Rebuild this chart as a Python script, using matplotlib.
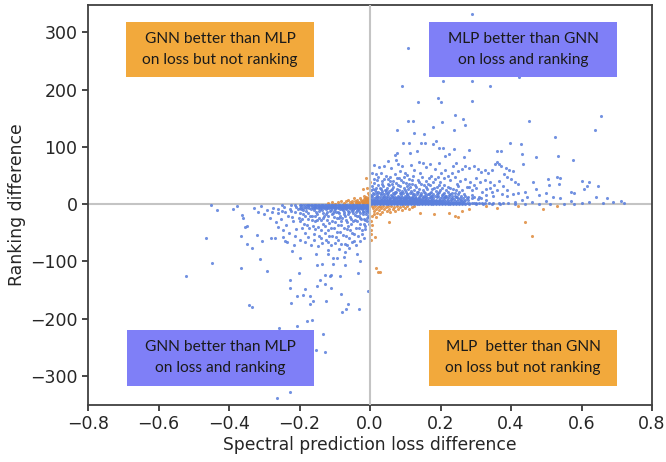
import numpy as np
import matplotlib
matplotlib.use('Agg')
import matplotlib.pyplot as plt
from matplotlib.patches import Rectangle

plt.rcParams['font.family'] = ['DejaVu Sans']

x_ticks = [-0.8, -0.6, -0.4, -0.2, 0.0, 0.2, 0.4, 0.6, 0.8]
y_ticks = [-300, -200, -100, 0, 100, 200, 300]

# scattered points (loss diff, ranking diff)
upper_sparse = [
    (0.29, 332), (0.108, 273), (0.208, 216), (0.29, 216), (0.34, 207), (0.423, 222), (0.09, 207),
    (0.137, 178), (0.193, 185), (0.201, 178), (0.288, 180), (0.24, 156), (0.264, 149), (0.27, 138),
    (0.107, 145), (0.121, 145), (0.204, 143), (0.178, 135), (0.237, 129), (0.078, 129), (0.125, 125),
    (0.154, 122), (0.452, 145), (0.656, 154), (0.638, 129), (0.526, 118), (0.396, 107), (0.429, 105),
    (0.095, 107), (0.111, 107), (0.146, 107), (0.157, 107), (0.178, 105), (0.187, 111), (0.197, 98),
    (0.206, 98), (0.237, 96), (0.281, 94), (0.134, 93), (0.114, 89), (0.078, 89), (0.071, 86),
    (0.225, 87), (0.214, 84), (0.267, 82), (0.36, 93), (0.373, 93), (0.432, 87), (0.47, 83),
    (0.532, 85), (0.576, 78), (0.36, 73), (0.354, 71), (0.366, 71), (0.435, 71), (0.372, 66),
    (0.385, 63), (0.395, 60), (0.405, 58), (0.38, 52), (0.39, 48), (0.4, 44), (0.41, 38),
    (0.42, 35), (0.462, 38), (0.505, 44), (0.508, 33), (0.53, 47), (0.54, 45), (0.535, 36),
    (0.6, 40), (0.622, 38), (0.615, 31), (0.648, 32), (0.606, 26), (0.57, 21), (0.58, 19),
    (0.52, 13), (0.5, 20), (0.48, 16), (0.47, 26), (0.44, 22), (0.445, 13), (0.64, 12),
    (0.672, 11), (0.713, 6), (0.72, 2), (0.69, 3), (0.66, 2), (0.62, 4), (0.6, 2),
    (0.57, 6), (0.54, 10), (0.5, 5), (0.46, 3), (0.43, 8), (0.41, 4), (0.39, 14),
    (0.01, 68), (0.025, 65), (0.04, 66), (0.05, 75), (0.06, 63), (0.075, 77), (0.08, 70),
    (0.085, 58), (0.1, 55), (0.092, 66), (0.115, 68), (0.125, 60), (0.14, 74), (0.15, 72),
    (0.16, 65), (0.17, 70), (0.185, 62), (0.195, 72), (0.2, 55), (0.212, 60), (0.22, 50),
    (0.235, 66), (0.245, 72), (0.25, 58), (0.26, 62), (0.27, 67), (0.28, 64), (0.295, 66),
    (0.305, 62), (0.315, 56), (0.325, 60), (0.335, 54), (0.345, 60), (0.03, 55), (0.045, 50),
    (0.058, 48), (0.07, 52), (0.083, 45), (0.097, 47), (0.11, 44), (0.122, 50), (0.135, 42),
    (0.148, 47), (0.16, 40), (0.172, 50), (0.185, 44), (0.198, 38), (0.21, 46), (0.226, 42),
    (0.24, 48), (0.255, 40), (0.27, 44), (0.285, 38), (0.3, 46), (0.312, 38), (0.325, 42),
    (0.34, 38), (0.352, 34), (0.365, 40), (0.378, 32), (0.02, 42), (0.035, 40), (0.05, 36),
    (0.065, 41), (0.08, 34), (0.095, 38), (0.105, 32), (0.12, 36), (0.13, 30), (0.145, 35),
    (0.158, 30), (0.17, 33), (0.182, 28), (0.195, 34), (0.205, 28), (0.22, 30), (0.235, 26),
    (0.25, 31), (0.262, 25), (0.275, 30), (0.29, 24), (0.302, 28), (0.318, 22), (0.33, 27),
    (0.345, 21), (0.36, 25), (0.375, 18), (0.39, 24), (0.405, 17), (0.42, 20), (0.35, 14),
    (0.33, 16), (0.31, 13), (0.29, 16), (0.27, 14), (0.25, 17),
]

# the thick part of the wedge just right of zero
upper_dense = [
    (0.006, 32), (0.012, 37), (0.018, 28), (0.024, 33), (0.03, 26), (0.036, 31), (0.042, 24),
    (0.048, 29), (0.054, 34), (0.06, 25), (0.066, 30), (0.072, 22), (0.078, 27), (0.084, 32),
    (0.09, 23), (0.096, 28), (0.102, 21), (0.108, 26), (0.114, 30), (0.12, 20), (0.126, 25),
    (0.132, 22), (0.138, 27), (0.144, 19), (0.15, 24), (0.156, 20), (0.162, 26), (0.168, 18),
    (0.174, 22), (0.18, 17), (0.186, 23), (0.192, 19), (0.198, 24), (0.204, 16), (0.21, 20),
    (0.216, 15), (0.222, 21), (0.228, 17), (0.234, 14), (0.24, 19), (0.246, 13), (0.252, 22),
    (0.004, 24), (0.009, 20), (0.014, 25), (0.019, 18), (0.024, 22), (0.029, 19), (0.034, 23),
    (0.039, 17), (0.044, 21), (0.049, 18), (0.054, 23), (0.059, 16), (0.064, 20), (0.069, 17),
    (0.074, 21), (0.079, 15), (0.084, 19), (0.089, 16), (0.094, 20), (0.099, 14), (0.104, 18),
    (0.109, 15), (0.114, 19), (0.119, 13), (0.124, 17), (0.129, 14), (0.134, 18), (0.139, 13),
    (0.144, 16), (0.149, 12), (0.154, 15), (0.159, 13), (0.164, 17), (0.169, 12), (0.174, 14),
    (0.179, 11), (0.184, 14), (0.189, 12), (0.194, 15), (0.199, 11), (0.204, 13), (0.209, 10),
    (0.214, 12), (0.219, 10), (0.224, 13), (0.229, 9), (0.234, 11), (0.239, 9), (0.244, 12),
    (0.249, 9), (0.254, 11), (0.259, 8), (0.264, 10), (0.269, 8), (0.274, 10), (0.279, 7),
    (0.003, 16), (0.007, 14), (0.012, 17), (0.016, 13), (0.021, 15), (0.026, 13), (0.031, 16),
    (0.036, 12), (0.041, 15), (0.046, 12), (0.051, 14), (0.056, 11), (0.061, 14), (0.066, 12),
    (0.071, 13), (0.076, 11), (0.081, 13), (0.086, 11), (0.091, 12), (0.096, 10), (0.101, 12),
    (0.106, 10), (0.111, 12), (0.116, 10), (0.121, 11), (0.126, 9), (0.131, 11), (0.136, 9),
    (0.008, 27), (0.016, 22), (0.027, 29), (0.033, 20), (0.046, 25), (0.052, 20), (0.063, 26),
    (0.07, 19), (0.081, 24), (0.088, 19), (0.099, 24), (0.106, 18), (0.117, 23), (0.123, 16),
    (0.135, 21), (0.141, 16), (0.153, 21), (0.16, 16), (0.171, 20), (0.177, 15), (0.19, 18),
    (0.195, 21), (0.207, 18), (0.213, 15), (0.225, 16), (0.232, 20), (0.242, 15), (0.258, 15),
    (0.268, 18), (0.278, 12), (0.288, 10), (0.296, 13), (0.306, 9), (0.316, 11), (0.328, 8),
    (0.011, 44), (0.022, 48), (0.033, 35), (0.041, 44), (0.056, 41), (0.062, 36), (0.073, 37),
    (0.088, 42), (0.101, 37), (0.112, 36), (0.118, 42), (0.128, 34), (0.139, 38), (0.152, 33),
    (0.165, 36), (0.177, 27), (0.19, 30), (0.21, 33), (0.217, 25), (0.228, 28), (0.243, 24),
    (0.006, 55), (0.017, 52), (0.052, 44), (0.076, 46), (0.104, 51), (0.142, 55), (0.167, 46),
    (0.179, 38), (0.192, 48), (0.232, 54), (0.248, 36), (0.28, 30), (0.296, 34), (0.34, 28),
]

# rows of the flat band around zero: (ranking diff, [loss diffs])
upper_band = [
    (11, [0.002, 0.012, 0.021, 0.03, 0.039, 0.047, 0.056, 0.066, 0.075, 0.084, 0.093, 0.102, 0.111,
          0.12, 0.129, 0.138, 0.147, 0.156, 0.165, 0.174]),
    (8, [0.003, 0.008, 0.014, 0.019, 0.026, 0.03, 0.034, 0.039, 0.042, 0.049, 0.053, 0.057, 0.064,
         0.069, 0.072, 0.08, 0.084, 0.087, 0.095, 0.099, 0.103, 0.11, 0.114, 0.118, 0.126, 0.13,
         0.133, 0.141, 0.145, 0.149, 0.156, 0.16, 0.164, 0.172, 0.18, 0.187, 0.195, 0.203, 0.211, 0.222]),
    (5, [0.002, 0.006, 0.009, 0.013, 0.016, 0.02, 0.023, 0.027, 0.03, 0.034, 0.037, 0.041, 0.044,
         0.048, 0.051, 0.055, 0.058, 0.062, 0.065, 0.069, 0.072, 0.076, 0.079, 0.083, 0.086, 0.09,
         0.093, 0.097, 0.1, 0.104, 0.107, 0.111, 0.114, 0.118, 0.121, 0.125, 0.128, 0.132, 0.135,
         0.139, 0.142, 0.146, 0.149, 0.153, 0.156, 0.16, 0.163, 0.167, 0.17, 0.174, 0.177, 0.181,
         0.184, 0.188, 0.191, 0.195, 0.198, 0.205, 0.212, 0.219, 0.226, 0.233, 0.24, 0.247, 0.254,
         0.261, 0.268]),
    (2, [0.001, 0.004, 0.008, 0.011, 0.015, 0.018, 0.022, 0.025, 0.029, 0.032, 0.036, 0.039, 0.043,
         0.046, 0.05, 0.053, 0.057, 0.06, 0.064, 0.067, 0.071, 0.074, 0.078, 0.081, 0.085, 0.088,
         0.092, 0.095, 0.099, 0.102, 0.106, 0.109, 0.113, 0.116, 0.12, 0.123, 0.127, 0.13, 0.134,
         0.137, 0.141, 0.144, 0.148, 0.151, 0.155, 0.158, 0.162, 0.165, 0.169, 0.172, 0.176, 0.179,
         0.183, 0.186, 0.19, 0.193, 0.197, 0.2, 0.204, 0.207, 0.211, 0.214, 0.218, 0.221, 0.225,
         0.228, 0.232, 0.235, 0.239, 0.242, 0.246, 0.249, 0.253, 0.256, 0.26, 0.264, 0.267, 0.274,
         0.281, 0.288, 0.295, 0.302, 0.31, 0.318, 0.327, 0.338, 0.35, 0.365, 0.378, 0.392]),
    (0, [0.004, 0.012, 0.02, 0.028, 0.036, 0.044, 0.052, 0.06, 0.068, 0.076, 0.084, 0.092, 0.1,
         0.108, 0.116, 0.124, 0.132, 0.14, 0.148, 0.156, 0.164, 0.172, 0.18, 0.188, 0.196, 0.204,
         0.212, 0.22, 0.228, 0.236, 0.244, 0.252, 0.26, 0.27, 0.282, 0.3, 0.32, 0.345, 0.37, 0.41,
         0.44, 0.48, 0.51, 0.55, 0.58]),
]

lower_sparse = [
    (-0.466, -60), (-0.447, -102), (-0.523, -125), (-0.367, -111), (-0.293, -117), (-0.311, -96),
    (-0.343, -176), (-0.335, -180), (-0.228, -132), (-0.228, -147), (-0.225, -173), (-0.201, -120),
    (-0.199, -94), (-0.208, -160), (-0.19, -158), (-0.184, -149), (-0.169, -160), (-0.161, -169),
    (-0.169, -175), (-0.126, -170), (-0.081, -157), (-0.061, -174), (-0.069, -184), (-0.08, -189),
    (-0.031, -184), (-0.005, -151), (-0.178, -204), (-0.164, -202), (-0.208, -213), (-0.258, -216),
    (-0.134, -227), (-0.152, -255), (-0.128, -258), (-0.228, -329), (-0.264, -338), (-0.084, -125),
    (-0.034, -120), (-0.128, -124), (-0.114, -126), (-0.11, -123), (-0.143, -132), (-0.149, -143),
    (-0.128, -139), (-0.11, -147), (-0.149, -106), (-0.137, -104), (-0.104, -104), (-0.071, -107),
    (-0.027, -99), (-0.153, -88), (-0.12, -80), (-0.118, -88), (-0.104, -94), (-0.095, -94),
    (-0.07, -83), (-0.074, -92), (-0.059, -76), (-0.036, -88), (-0.367, -55), (-0.35, -69),
    (-0.335, -76), (-0.32, -54), (-0.307, -64), (-0.282, -59), (-0.27, -59), (-0.246, -58),
    (-0.241, -64), (-0.235, -67), (-0.216, -72), (-0.222, -82), (-0.355, -40), (-0.35, -38),
    (-0.452, -2), (-0.435, -10), (-0.364, -19), (-0.36, -25), (-0.388, -8), (-0.377, -4),
    (-0.33, -6), (-0.318, -14), (-0.31, -4), (-0.3, -18), (-0.292, -10), (-0.283, -25),
    (-0.275, -7), (-0.268, -32), (-0.26, -16), (-0.252, -26), (-0.245, -5), (-0.238, -36),
    (-0.232, -20), (-0.225, -12), (-0.218, -30), (-0.21, -44), (-0.202, -24),
]

lower_dense = [
    (-0.195, -8), (-0.19, -18), (-0.186, -34), (-0.181, -12), (-0.177, -26), (-0.172, -42),
    (-0.168, -9), (-0.164, -20), (-0.16, -52), (-0.156, -30), (-0.152, -14), (-0.148, -40),
    (-0.144, -24), (-0.14, -60), (-0.136, -10), (-0.132, -34), (-0.128, -50), (-0.125, -18),
    (-0.121, -27), (-0.118, -66), (-0.114, -12), (-0.11, -42), (-0.107, -56), (-0.103, -22),
    (-0.1, -31), (-0.097, -14), (-0.094, -48), (-0.09, -62), (-0.087, -25), (-0.084, -9),
    (-0.081, -37), (-0.078, -54), (-0.075, -18), (-0.072, -70), (-0.069, -28), (-0.066, -44),
    (-0.063, -12), (-0.06, -60), (-0.057, -22), (-0.054, -35), (-0.051, -50), (-0.048, -15),
    (-0.045, -65), (-0.042, -27), (-0.039, -41), (-0.036, -10), (-0.033, -56), (-0.03, -20),
    (-0.027, -34), (-0.024, -46), (-0.021, -13), (-0.018, -26), (-0.015, -38), (-0.012, -18),
    (-0.009, -30), (-0.006, -12), (-0.003, -22),
    (-0.19, -11), (-0.175, -15), (-0.165, -28), (-0.155, -21), (-0.145, -12), (-0.138, -28),
    (-0.13, -20), (-0.122, -14), (-0.116, -33), (-0.108, -17), (-0.102, -12), (-0.095, -24),
    (-0.088, -16), (-0.083, -30), (-0.077, -11), (-0.071, -21), (-0.065, -32), (-0.059, -14),
    (-0.053, -26), (-0.047, -10), (-0.043, -19), (-0.037, -30), (-0.032, -12), (-0.028, -24),
    (-0.023, -9), (-0.019, -18), (-0.014, -28), (-0.01, -10), (-0.007, -20), (-0.004, -15),
    (-0.16, -10), (-0.15, -17), (-0.142, -9), (-0.134, -15), (-0.126, -9), (-0.119, -20),
    (-0.112, -10), (-0.105, -15), (-0.098, -9), (-0.091, -13), (-0.085, -20), (-0.079, -8),
    (-0.073, -14), (-0.067, -9), (-0.061, -17), (-0.055, -8), (-0.05, -12), (-0.044, -7),
    (-0.04, -14), (-0.035, -8), (-0.029, -15), (-0.025, -7), (-0.02, -12), (-0.016, -7),
    (-0.011, -14), (-0.008, -7), (-0.005, -10), (-0.002, -6),
    (-0.198, -30), (-0.192, -42), (-0.184, -50), (-0.178, -36), (-0.17, -20), (-0.163, -38),
    (-0.157, -44), (-0.15, -28), (-0.146, -55), (-0.139, -46), (-0.133, -24), (-0.127, -38),
    (-0.12, -46), (-0.115, -56), (-0.109, -30), (-0.101, -42), (-0.096, -58), (-0.092, -36),
    (-0.086, -48), (-0.08, -24), (-0.074, -42), (-0.068, -56), (-0.062, -38), (-0.056, -46),
    (-0.049, -30), (-0.044, -52), (-0.038, -20), (-0.031, -42), (-0.026, -26), (-0.022, -52),
    (-0.017, -34), (-0.013, -44), (-0.008, -24), (-0.004, -34), (-0.24, -14), (-0.228, -8),
    (-0.22, -22), (-0.212, -14), (-0.205, -9), (-0.199, -16), (-0.193, -26), (-0.183, -20),
    (-0.26, -40), (-0.248, -46), (-0.23, -50), (-0.214, -56), (-0.2, -62), (-0.185, -66),
    (-0.176, -58), (-0.166, -72), (-0.158, -62), (-0.147, -74), (-0.135, -68), (-0.124, -62),
    (-0.112, -72), (-0.099, -68), (-0.089, -78), (-0.082, -70), (-0.065, -72), (-0.052, -66),
    (-0.041, -72), (-0.028, -64), (-0.016, -60), (-0.278, -14), (-0.262, -9), (-0.25, -12),
]

lower_band = [
    (-7, [-0.2, -0.19, -0.181, -0.172, -0.163, -0.155, -0.147, -0.139, -0.131, -0.123, -0.115,
          -0.107, -0.099, -0.091, -0.083, -0.075, -0.067, -0.059, -0.051, -0.043, -0.035, -0.027,
          -0.019, -0.011, -0.003]),
    (-5, [-0.21, -0.195, -0.185, -0.175, -0.165, -0.16, -0.155, -0.15, -0.146, -0.142, -0.138, -0.134,
          -0.13, -0.126, -0.122, -0.118, -0.114, -0.11, -0.106, -0.103, -0.099, -0.096, -0.092, -0.089,
          -0.085, -0.082, -0.078, -0.075, -0.071, -0.068, -0.064, -0.061, -0.057, -0.054, -0.05,
          -0.047, -0.043, -0.04, -0.036, -0.033, -0.029, -0.026, -0.022, -0.019, -0.015, -0.012,
          -0.008, -0.005, -0.002]),
    (-2, [-0.25, -0.225, -0.212, -0.2, -0.195, -0.19, -0.185, -0.18, -0.176, -0.172, -0.168, -0.164,
          -0.16, -0.156, -0.152, -0.148, -0.144, -0.14, -0.136, -0.132, -0.128, -0.124, -0.12,
          -0.116, -0.112, -0.108, -0.104, -0.1, -0.096, -0.092, -0.088, -0.084, -0.08, -0.076,
          -0.072, -0.068, -0.064, -0.06, -0.056, -0.052, -0.048, -0.044, -0.04, -0.036, -0.032,
          -0.028, -0.024, -0.02, -0.016, -0.012, -0.008, -0.004]),
]

# orange: the two off-diagonal quadrants
orange_points = [
    (-0.12, 2), (-0.108, 4), (-0.1, 1), (-0.09, 3), (-0.082, 6), (-0.075, 2), (-0.068, 5),
    (-0.062, 8), (-0.056, 3), (-0.05, 6), (-0.045, 10), (-0.04, 2), (-0.036, 7), (-0.032, 4),
    (-0.028, 11), (-0.024, 6), (-0.02, 2), (-0.017, 9), (-0.014, 5), (-0.011, 13), (-0.008, 3),
    (-0.006, 8), (-0.003, 5), (-0.002, 2), (-0.052, 2), (-0.042, 5), (-0.03, 2), (-0.022, 4),
    (-0.016, 2), (-0.012, 7), (-0.009, 1), (-0.005, 11), (-0.003, 16), (-0.007, 20), (-0.018, 14),
    (-0.012, 45), (-0.02, 27), (-0.008, 28), (-0.001, 38), (-0.035, 2), (-0.026, 8), (-0.019, 5),
    (-0.013, 3), (-0.01, 9), (-0.006, 4), (-0.004, 7), (-0.002, 10), (-0.015, 11), (-0.038, 4),
    (0.005, -3), (0.008, -7), (0.011, -12), (0.014, -4), (0.017, -9), (0.02, -15), (0.023, -5),
    (0.026, -10), (0.029, -3), (0.032, -7), (0.035, -13), (0.038, -4), (0.041, -9), (0.044, -5),
    (0.047, -12), (0.05, -3), (0.053, -8), (0.056, -14), (0.06, -4), (0.064, -9), (0.068, -5),
    (0.072, -12), (0.076, -4), (0.08, -8), (0.085, -5), (0.09, -10), (0.095, -4), (0.1, -7),
    (0.105, -4), (0.11, -8), (0.118, -5), (0.124, -3), (0.01, -18), (0.018, -22), (0.028, -17),
    (0.005, -20), (0.004, -30), (0.006, -37), (0.002, -45), (0.014, -58), (0.054, -31),
    (0.002, -52), (0.003, -62), (0.018, -112), (0.022, -118), (0.028, -118), (0.142, -16),
    (0.182, -18), (0.225, -15), (0.24, -20), (0.25, -22), (0.26, -12), (0.28, -9), (0.33, -3),
    (0.36, -6), (0.42, -3), (0.46, -55), (0.44, -32), (0.49, -8), (0.53, -4),
]

blue_color = '#5a7fdc'
orange_color = '#df8b3d'
box_blue = '#7f7ff7'
box_orange = '#f2a93c'
ink = '#262626'


def expand_rows(rows):
    points = []
    for level, xs in rows:
        for x in xs:
            points.append((x, level))
    return points


def draw_box(ax, x0, x1, y0, y1, color, label):
    ax.add_patch(Rectangle((x0, y0), x1 - x0, y1 - y0, facecolor=color, edgecolor='none', zorder=4))
    ax.text((x0 + x1) / 2, (y0 + y1) / 2, label, ha='center', va='center', fontsize=11.2,
            family='Lato', color='#1a1a1a', linespacing=1.6, zorder=5)


def main():
    fig = plt.figure(figsize=(6.66, 4.62), dpi=100)
    ax = fig.add_axes([88 / 666, 1 - 405 / 462, 564 / 666, 400 / 462])

    ax.axhline(0, color='#c4c4c4', lw=1.5, zorder=1)
    ax.axvline(0, color='#c4c4c4', lw=1.5, zorder=3)

    blue = upper_sparse + upper_dense + expand_rows(upper_band) + lower_sparse + lower_dense + expand_rows(lower_band)
    blue = np.array(blue)
    orange = np.array(orange_points)
    ax.scatter(orange[:, 0], orange[:, 1], s=5, color=orange_color, alpha=0.85, linewidths=0, zorder=2)
    ax.scatter(blue[:, 0], blue[:, 1], s=5, color=blue_color, alpha=0.85, linewidths=0, zorder=2)

    draw_box(ax, -0.692, -0.159, 222, 318, box_orange, 'GNN better than MLP\non loss but not ranking')
    draw_box(ax, 0.167, 0.701, 222, 318, box_blue, 'MLP better than GNN\non loss and ranking')
    draw_box(ax, -0.69, -0.159, -317, -220, box_blue, 'GNN better than MLP\non loss and ranking')
    draw_box(ax, 0.167, 0.701, -317, -220, box_orange, 'MLP  better than GNN\non loss but not ranking')

    ax.set_xlim(-0.8, 0.8)
    ax.set_ylim(-351, 348)
    ax.set_xticks(x_ticks)
    ax.set_yticks(y_ticks)
    ax.tick_params(labelsize=12.5, colors=ink, width=1.2, length=4)
    ax.set_xlabel('Spectral prediction loss difference', fontsize=12.3, color=ink, labelpad=2)
    ax.set_ylabel('Ranking difference', fontsize=12.4, color=ink, labelpad=3)
    for spine in ax.spines.values():
        spine.set_color('#404040')
        spine.set_linewidth(1.3)

    fig.savefig('out.png', dpi=100)


if __name__ == '__main__':
    main()
